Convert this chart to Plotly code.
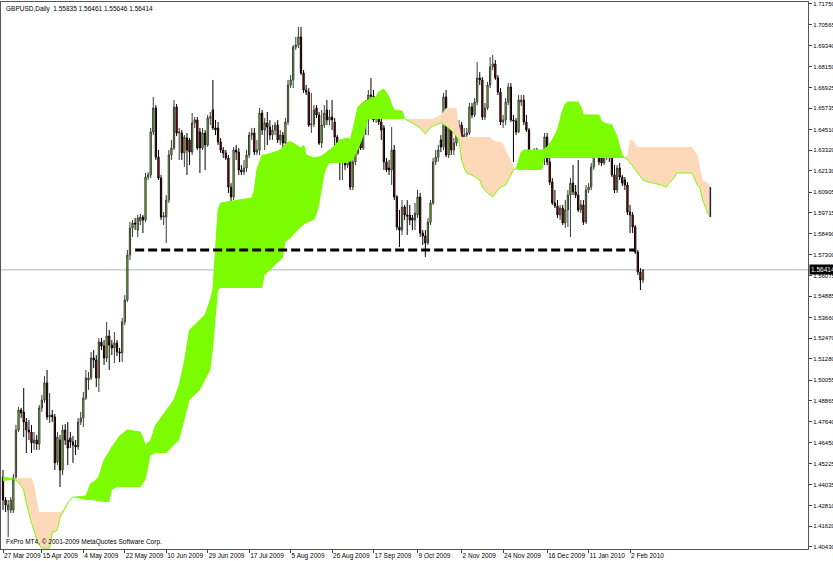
import plotly.graph_objects as go

symbol = "GBPUSD"
timeframe = "Daily"

opens = [
1.4447,1.4314,1.4256,1.4256,1.4256,1.4447,1.4718,1.4833,1.4822,1.4764,
1.4718,1.4706,1.4643,1.4660,1.4637,1.4845,1.4891,1.4989,1.4793,1.4804,
1.4793,1.4533,1.4660,1.4487,1.4718,1.4660,1.4672,1.4649,1.4631,1.4620,
1.4764,1.4787,1.4902,1.5006,1.5018,1.5133,1.5122,1.5018,1.5225,1.5202,
1.5133,1.5260,1.5208,1.5191,1.5220,1.5168,1.5162,1.5341,1.5468,1.5727,
1.5883,1.5912,1.5871,1.5923,1.5946,1.5929,1.6177,1.6189,1.6437,1.6575,
1.6292,1.6171,1.5946,1.5946,1.6044,1.6304,1.6344,1.6581,1.6431,1.6431,
1.6316,1.6402,1.6391,1.6321,1.6489,1.6506,1.6437,1.6344,1.6431,1.6362,
1.6517,1.6564,1.6460,1.6460,1.6379,1.6333,1.6316,1.6287,1.6119,1.6062,
1.6333,1.6321,1.6218,1.6206,1.6229,1.6304,1.6419,1.6431,1.6321,1.6333,
1.6546,1.6448,1.6489,1.6465,1.6419,1.6448,1.6477,1.6391,1.6419,1.6373,
1.6494,1.6708,1.6737,1.6927,1.6938,1.6985,1.6777,1.6679,1.6667,1.6477,
1.6483,1.6575,1.6535,1.6373,1.6477,1.6564,1.6506,1.6523,1.6494,1.6408,
1.6333,1.6275,1.6321,1.6246,1.6304,1.6119,1.6264,1.6316,1.6408,1.6344,
1.6581,1.6564,1.6650,1.6644,1.6517,1.6552,1.6494,1.6460,1.6264,1.6229,
1.6218,1.6333,1.6062,1.5889,1.5871,1.6004,1.5958,1.5958,1.5941,1.5929,
1.5958,1.6062,1.5854,1.5837,1.5796,1.5917,1.6027,1.6264,1.6292,1.6391,
1.6350,1.6639,1.6304,1.6477,1.6333,1.6373,1.6431,1.6477,1.6373,1.6419,
1.6431,1.6581,1.6535,1.6610,1.6748,1.6737,1.6523,1.6575,1.6708,1.6812,
1.6829,1.6748,1.6667,1.6494,1.6506,1.6610,1.6696,1.6506,1.6500,1.6437,
1.6610,1.6621,1.6494,1.6448,1.6292,1.6281,1.6321,1.6264,1.6252,1.6298,
1.6408,1.6264,1.6148,1.6027,1.6010,1.5958,1.5998,1.5912,1.5987,1.6073,
1.6142,1.6091,1.6073,1.5987,1.6016,1.5917,1.6102,1.6119,1.6235,1.6321,
1.6333,1.6304,1.6258,1.6350,1.6362,1.6287,1.6189,1.6102,1.6229,1.6177,
1.6160,1.6131,1.5975,1.5958,1.5889,1.5744,1.5629,1.55835]

highs = [
1.4487,1.4331,1.4314,1.4331,1.4464,1.4747,1.4851,1.4845,1.4960,1.4787,
1.4776,1.4747,1.4706,1.4689,1.4862,1.4920,1.5029,1.5064,1.4931,1.4833,
1.4810,1.4706,1.4689,1.4747,1.4752,1.4764,1.4706,1.4683,1.4660,1.4787,
1.4822,1.4937,1.5064,1.5052,1.5168,1.5179,1.5150,1.5248,1.5248,1.5237,
1.5341,1.5295,1.5237,1.5283,1.5237,1.5191,1.5364,1.5496,1.5756,1.5917,
1.5929,1.5941,1.5958,1.5964,1.5958,1.6200,1.6206,1.6460,1.6639,1.6592,
1.6333,1.6189,1.5975,1.6073,1.6333,1.6391,1.6621,1.6598,1.6460,1.6448,
1.6419,1.6431,1.6402,1.6546,1.6523,1.6523,1.6460,1.6460,1.6448,1.6535,
1.6552,1.6737,1.6506,1.6494,1.6402,1.6350,1.6333,1.6304,1.6142,1.6350,
1.6362,1.6344,1.6246,1.6275,1.6333,1.6437,1.6460,1.6460,1.6391,1.6575,
1.6564,1.6517,1.6552,1.6506,1.6477,1.6494,1.6506,1.6448,1.6437,1.6517,
1.6737,1.6765,1.6938,1.6985,1.7042,1.7042,1.6794,1.6708,1.6690,1.6662,
1.6592,1.6592,1.6552,1.6564,1.6592,1.6621,1.6564,1.6621,1.6517,1.6419,
1.6362,1.6373,1.6333,1.6333,1.6333,1.6287,1.6344,1.6448,1.6431,1.6604,
1.6621,1.6679,1.6748,1.6679,1.6633,1.6564,1.6517,1.6477,1.6287,1.6275,
1.6465,1.6362,1.6073,1.5987,1.6044,1.6016,1.6044,1.6016,1.5958,1.6027,
1.6102,1.6085,1.5871,1.5871,1.5941,1.6044,1.6287,1.6333,1.6362,1.6419,
1.6662,1.6679,1.6506,1.6494,1.6402,1.6460,1.6506,1.6494,1.6460,1.6460,
1.6604,1.6604,1.6633,1.6840,1.6783,1.6754,1.6604,1.6725,1.6869,1.6881,
1.6852,1.6765,1.6690,1.6535,1.6633,1.6719,1.6719,1.6535,1.6517,1.6650,
1.6650,1.6650,1.6535,1.6460,1.6333,1.6344,1.6344,1.6287,1.6321,1.6431,
1.6431,1.6287,1.6171,1.6102,1.6044,1.6016,1.6016,1.6044,1.6102,1.6171,
1.6246,1.6131,1.6275,1.6044,1.6044,1.6131,1.6142,1.6258,1.6350,1.6362,
1.6356,1.6333,1.6379,1.6454,1.6391,1.6304,1.6246,1.6246,1.6258,1.6189,
1.6177,1.6148,1.6016,1.5975,1.5900,1.5756,1.5652,1.56461]

lows = [
1.4256,1.4245,1.4101,1.4239,1.4239,1.4430,1.4706,1.4787,1.4677,1.4585,
1.4660,1.4585,1.4603,1.4603,1.4603,1.4822,1.4874,1.4776,1.4758,1.4764,
1.4487,1.4516,1.4389,1.4458,1.4631,1.4516,1.4614,1.4528,1.4574,1.4603,
1.4747,1.4735,1.4891,1.4949,1.5006,1.5075,1.4966,1.4937,1.5179,1.5093,
1.5110,1.5064,1.5150,1.5104,1.5145,1.5110,1.5110,1.5323,1.5456,1.5698,
1.5831,1.5871,1.5831,1.5900,1.5854,1.5917,1.6160,1.6171,1.6419,1.6275,
1.6160,1.5929,1.5900,1.5796,1.6027,1.6275,1.6333,1.6413,1.6275,1.6275,
1.6235,1.6189,1.6246,1.6304,1.6460,1.6333,1.6200,1.6333,1.6218,1.6350,
1.6477,1.6448,1.6419,1.6362,1.6316,1.6287,1.6275,1.6085,1.5975,1.6044,
1.6275,1.6189,1.6189,1.6189,1.6206,1.6287,1.6391,1.6304,1.6304,1.6304,
1.6419,1.6333,1.6362,1.6391,1.6391,1.6419,1.6373,1.6362,1.6333,1.6362,
1.6477,1.6690,1.6690,1.6910,1.6921,1.6765,1.6662,1.6650,1.6465,1.6431,
1.6465,1.6517,1.6362,1.6344,1.6460,1.6477,1.6477,1.6448,1.6356,1.6316,
1.6160,1.6160,1.6218,1.6229,1.6102,1.6102,1.6246,1.6304,1.6333,1.6333,
1.6419,1.6419,1.6621,1.6494,1.6489,1.6477,1.6391,1.6218,1.6206,1.6189,
1.6131,1.6044,1.5871,1.5773,1.5843,1.5929,1.5843,1.5900,1.5871,1.5871,
1.5941,1.5831,1.5785,1.5716,1.5785,1.5900,1.6016,1.6246,1.6264,1.6321,
1.6333,1.6292,1.6287,1.6304,1.6304,1.6356,1.6391,1.6275,1.6362,1.6391,
1.6419,1.6517,1.6523,1.6592,1.6708,1.6506,1.6506,1.6564,1.6690,1.6794,
1.6737,1.6650,1.6477,1.6460,1.6477,1.6592,1.6494,1.6264,1.6419,1.6431,
1.6587,1.6477,1.6437,1.6218,1.6264,1.6264,1.6246,1.6229,1.6229,1.6246,
1.6246,1.6131,1.6016,1.5998,1.5941,1.5929,1.5900,1.5883,1.5889,1.5831,
1.6073,1.6056,1.5975,1.5969,1.5900,1.5906,1.6085,1.6102,1.6218,1.6287,
1.6246,1.6241,1.6246,1.6275,1.6264,1.6177,1.6085,1.6085,1.6160,1.6125,
1.6102,1.5958,1.5854,1.5854,1.5733,1.5612,1.5525,1.55646]

closes = [
1.4314,1.4285,1.4285,1.4314,1.4441,1.4718,1.4833,1.4816,1.4764,1.4718,
1.4706,1.4643,1.4660,1.4637,1.4845,1.4891,1.4989,1.4793,1.4804,1.4793,
1.4528,1.4677,1.4487,1.4718,1.4660,1.4614,1.4649,1.4631,1.4620,1.4764,
1.4787,1.4902,1.5018,1.5018,1.5133,1.5122,1.5018,1.5225,1.5202,1.5133,
1.5260,1.5208,1.5191,1.5220,1.5168,1.5162,1.5341,1.5468,1.5727,1.5883,
1.5912,1.5906,1.5941,1.5946,1.5929,1.6177,1.6189,1.6437,1.6575,1.6292,
1.6171,1.5946,1.5952,1.6044,1.6304,1.6344,1.6581,1.6431,1.6437,1.6316,
1.6408,1.6333,1.6321,1.6489,1.6506,1.6344,1.6344,1.6431,1.6362,1.6517,
1.6523,1.6460,1.6448,1.6379,1.6333,1.6316,1.6287,1.6119,1.6062,1.6333,
1.6321,1.6218,1.6206,1.6229,1.6304,1.6419,1.6431,1.6321,1.6333,1.6546,
1.6448,1.6489,1.6465,1.6419,1.6448,1.6477,1.6391,1.6419,1.6373,1.6494,
1.6708,1.6737,1.6927,1.6938,1.6985,1.6777,1.6679,1.6667,1.6477,1.6483,
1.6564,1.6535,1.6373,1.6477,1.6546,1.6506,1.6523,1.6506,1.6408,1.6333,
1.6275,1.6333,1.6246,1.6304,1.6119,1.6264,1.6316,1.6408,1.6344,1.6581,
1.6575,1.6650,1.6644,1.6506,1.6552,1.6494,1.6448,1.6264,1.6218,1.6218,
1.6333,1.6062,1.5889,1.5871,1.6004,1.5958,1.5952,1.5929,1.5929,1.5969,
1.6062,1.5854,1.5837,1.5796,1.5917,1.6027,1.6264,1.6292,1.6333,1.6350,
1.6639,1.6304,1.6477,1.6333,1.6373,1.6431,1.6477,1.6373,1.6419,1.6431,
1.6581,1.6535,1.6610,1.6748,1.6737,1.6523,1.6575,1.6708,1.6812,1.6829,
1.6748,1.6667,1.6494,1.6506,1.6610,1.6696,1.6506,1.6500,1.6437,1.6621,
1.6621,1.6494,1.6448,1.6287,1.6281,1.6321,1.6264,1.6252,1.6298,1.6408,
1.6264,1.6148,1.6027,1.6010,1.5958,1.5998,1.5912,1.5987,1.6073,1.6142,
1.6091,1.6073,1.5987,1.6016,1.5917,1.6102,1.6119,1.6235,1.6321,1.6333,
1.6264,1.6258,1.6350,1.6373,1.6287,1.6189,1.6102,1.6229,1.6177,1.6142,
1.6131,1.5975,1.5958,1.5889,1.5744,1.5629,1.5583,1.56414]

# Ichimoku cloud (Senkou span A / B) read at bar offsets, extending 26 bars ahead
cloud_idx = [0,3,4,6,8,9,11,12,13,14,15,18,19,21,22,23,24,25,26,27,28,32,34,35,37,39,41,42,44,45,
             48,53,55,57,59,63,66,68,70,72,76,78,80,81,82,83,84,86,91,96,97,98,100,101,104,105,107,108,109,110,
             111,112,115,116,117,120,121,122,123,124,125,126,127,130,133,134,135,137,139,141,142,144,145,147,149,150,151,154,155,158,
             161,163,165,166,167,169,171,172,174,175,176,177,178,179,181,184,185,187,188,189,191,192,193,194,196,197,198,199,200,201,
             208,209,210,212,214,215,216,217,218,222,223,224,230,231,232,235,237,238,239,240,241,242,243,245,247,249,251,254,256,257,
             259,260,266,268,269,270,272,273]
span_a = [1.4447,1.4441,1.4435,1.4418,1.4372,1.4297,1.4181,1.4141,1.4083,1.4054,1.4037,1.4037,1.4124,1.4141,1.4216,1.4239,1.4268,1.4297,1.4314,1.4331,1.4331,1.4337,1.4412,1.4418,1.4447,1.4545,1.4591,1.4620,1.4660,1.4683,
          1.4718,1.4706,1.4631,1.4660,1.4747,1.4833,1.4891,1.4977,1.5110,1.5295,1.5352,1.5381,1.5468,1.5525,1.5756,1.5987,1.6027,1.6033,1.6044,1.6056,1.6102,1.6218,1.6304,1.6304,1.6316,1.6321,1.6333,1.6350,1.6362,1.6379,
          1.6379,1.6373,1.6344,1.6362,1.6304,1.6287,1.6292,1.6292,1.6298,1.6310,1.6321,1.6333,1.6344,1.6391,1.6402,1.6391,1.6448,1.6581,1.6610,1.6621,1.6633,1.6639,1.6667,1.6685,1.6639,1.6592,1.6564,1.6558,1.6512,1.6489,
          1.6460,1.6425,1.6465,1.6471,1.6477,1.6489,1.6471,1.6460,1.6431,1.6413,1.6391,1.6275,1.6229,1.6200,1.6189,1.6160,1.6119,1.6085,1.6073,1.6062,1.6102,1.6119,1.6125,1.6131,1.6189,1.6218,1.6223,1.6275,1.6321,1.6333,
          1.6333,1.6339,1.6350,1.6391,1.6448,1.6506,1.6564,1.6598,1.6610,1.6610,1.6581,1.6535,1.6535,1.6500,1.6489,1.6477,1.6408,1.6350,1.6304,1.6287,1.6281,1.6258,1.6241,1.6200,1.6160,1.6148,1.6142,1.6131,1.6119,1.6142,
          1.6171,1.6200,1.6200,1.6131,1.6114,1.6044,1.5969,1.5946]
span_b = [1.4424,1.4430,1.4435,1.4441,1.4441,1.4441,1.4441,1.4401,1.4314,1.4245,1.4245,1.4245,1.4245,1.4245,1.4245,1.4256,1.4279,1.4302,1.4320,1.4331,1.4326,1.4314,1.4314,1.4314,1.4308,1.4302,1.4302,1.4372,1.4389,1.4389,
          1.4389,1.4389,1.4430,1.4574,1.4585,1.4585,1.4631,1.4660,1.4776,1.4891,1.4949,1.5006,1.5064,1.5179,1.5352,1.5525,1.5537,1.5537,1.5537,1.5537,1.5537,1.5537,1.5537,1.5612,1.5652,1.5669,1.5698,1.5710,1.5802,1.5814,
          1.5825,1.5843,1.5889,1.5900,1.5912,1.5929,1.5958,1.6016,1.6102,1.6189,1.6235,1.6258,1.6258,1.6258,1.6258,1.6264,1.6275,1.6333,1.6408,1.6512,1.6512,1.6512,1.6512,1.6512,1.6512,1.6512,1.6512,1.6512,1.6512,1.6512,
          1.6512,1.6512,1.6512,1.6512,1.6523,1.6535,1.6575,1.6575,1.6575,1.6575,1.6477,1.6408,1.6408,1.6408,1.6408,1.6408,1.6408,1.6408,1.6408,1.6391,1.6379,1.6379,1.6373,1.6333,1.6275,1.6241,1.6223,1.6218,1.6218,1.6218,
          1.6218,1.6287,1.6287,1.6287,1.6287,1.6287,1.6287,1.6287,1.6287,1.6287,1.6287,1.6287,1.6287,1.6287,1.6287,1.6287,1.6287,1.6287,1.6287,1.6287,1.6304,1.6391,1.6391,1.6350,1.6350,1.6350,1.6350,1.6350,1.6350,1.6350,
          1.6350,1.6350,1.6350,1.6304,1.6229,1.6160,1.6142,1.6119]

# user-drawn support line
support_level = 1.5756
support_start = 51
support_end = 244

date_labels = ["27 Mar 2009", "15 Apr 2009", "4 May 2009", "22 May 2009", "10 Jun 2009",
               "29 Jun 2009", "17 Jul 2009", "5 Aug 2009", "26 Aug 2009", "17 Sep 2009",
               "9 Oct 2009", "2 Nov 2009", "24 Nov 2009", "16 Dec 2009", "11 Jan 2010", "2 Feb 2010"]
date_tick_index = [0, 15, 31, 47, 63, 79, 95, 111, 127, 143, 160, 177, 193, 210, 226, 242]

price_ticks = [1.71750, 1.70565, 1.69340, 1.68150, 1.66925, 1.65735, 1.64510, 1.63320, 1.62130,
               1.60905, 1.59715, 1.58490, 1.57300, 1.56075, 1.54885, 1.53660, 1.52470, 1.51280,
               1.50055, 1.48865, 1.47640, 1.46450, 1.45225, 1.44035, 1.42810, 1.41620, 1.40430]

assert len(opens) == len(highs) == len(lows) == len(closes)
assert len(cloud_idx) == len(span_a) == len(span_b)

GREEN = "#7CFC00"
PEACH = "#FDD9BA"
FONT = "Liberation Sans"

n = len(closes)
bars = list(range(n))

fig = go.Figure()

# cloud polygons, split where span A and span B cross
segments = []
cur = [0]
for k in range(1, len(cloud_idx)):
    cur.append(k)
    if abs(span_a[k] - span_b[k]) < 1e-9:
        segments.append(cur)
        cur = [k]
if len(cur) > 1:
    segments.append(cur)

for seg in segments:
    up = sum(span_a[k] - span_b[k] for k in seg) > 0
    xs = [cloud_idx[k] for k in seg] + [cloud_idx[k] for k in reversed(seg)]
    ys = [span_a[k] for k in seg] + [span_b[k] for k in reversed(seg)]
    fig.add_trace(go.Scatter(x=xs, y=ys, mode="lines", fill="toself",
                             fillcolor=GREEN if up else PEACH,
                             line=dict(width=0, color=GREEN if up else PEACH),
                             hoverinfo="skip", showlegend=False))

fig.add_trace(go.Scatter(x=cloud_idx, y=span_a, mode="lines",
                         line=dict(color=GREEN, width=1), hoverinfo="skip", showlegend=False))
fig.add_trace(go.Scatter(x=[cloud_idx[-1], cloud_idx[-1]], y=[span_a[-1], span_b[-1]], mode="lines",
                         line=dict(color="#20204a", width=1.5), hoverinfo="skip", showlegend=False))

fig.add_trace(go.Candlestick(
    x=bars, open=opens, high=highs, low=lows, close=closes,
    increasing=dict(line=dict(color="#3a3a3a", width=1), fillcolor=GREEN),
    decreasing=dict(line=dict(color="#000000", width=1), fillcolor="#FF0000"),
    whiskerwidth=0, showlegend=False, hoverinfo="skip"))

fig.add_shape(type="line", xref="paper", x0=0, x1=1, yref="y", y0=closes[-1], y1=closes[-1],
              line=dict(color="#A9B6C6", width=1), layer="below")
fig.add_shape(type="line", xref="x", x0=support_start, x1=support_end, yref="y",
              y0=support_level, y1=support_level, line=dict(color="black", width=3, dash="9px,4px"))

fig.add_annotation(xref="paper", yref="paper", x=0, y=1, xanchor="left", yanchor="top",
                   xshift=3, yshift=-1, showarrow=False,
                   text=f"{symbol},{timeframe}  {opens[-1]:.5f} {highs[-1]:.5f} {lows[-1]:.5f} {closes[-1]:.5f}",
                   font=dict(family=FONT, size=6.5, color="black"))
fig.add_annotation(xref="paper", yref="paper", x=0, y=0, xanchor="left", yanchor="bottom",
                   xshift=3, yshift=1, showarrow=False,
                   text="FxPro MT4, © 2001-2009 MetaQuotes Software Corp.",
                   font=dict(family=FONT, size=6.5, color="black"))
fig.add_annotation(xref="paper", yref="y", x=1, y=closes[-1], xanchor="left", yanchor="middle",
                   xshift=1, showarrow=False, text=f"{closes[-1]:.5f}", bgcolor="black",
                   borderpad=1, font=dict(family=FONT, size=6.5, color="white"))

px_per_bar = 640 / (n - 1)
fig.update_layout(
    width=833, height=561,
    margin=dict(l=1, r=25, t=2, b=12, autoexpand=False),
    paper_bgcolor="white", plot_bgcolor="white",
    showlegend=False, hovermode=False,
    font=dict(family=FONT, size=6.5, color="black"),
    xaxis=dict(range=[-2 / px_per_bar, 805 / px_per_bar], tickmode="array",
               tickvals=date_tick_index, ticktext=date_labels, tickangle=0,
               ticks="outside", ticklen=3, tickcolor="#404040",
               ticklabelposition="outside right",
               showline=True, mirror=True, linecolor="#555555", linewidth=1,
               showgrid=False, zeroline=False, rangeslider=dict(visible=False),
               tickfont=dict(family=FONT, size=6.5, color="black"), automargin=False),
    yaxis=dict(side="right", range=[1.40314, 1.71865], tickmode="array",
               tickvals=price_ticks, ticktext=[f"{v:.5f}" for v in price_ticks],
               ticks="outside", ticklen=3, tickcolor="#404040",
               showline=True, mirror=True, linecolor="#555555", linewidth=1,
               showgrid=False, zeroline=False,
               tickfont=dict(family=FONT, size=6, color="black"), automargin=False),
)

fig.write_html("out.html", config={"displayModeBar": False},
               post_script="document.body.style.margin='0';document.body.style.overflow='hidden';")
